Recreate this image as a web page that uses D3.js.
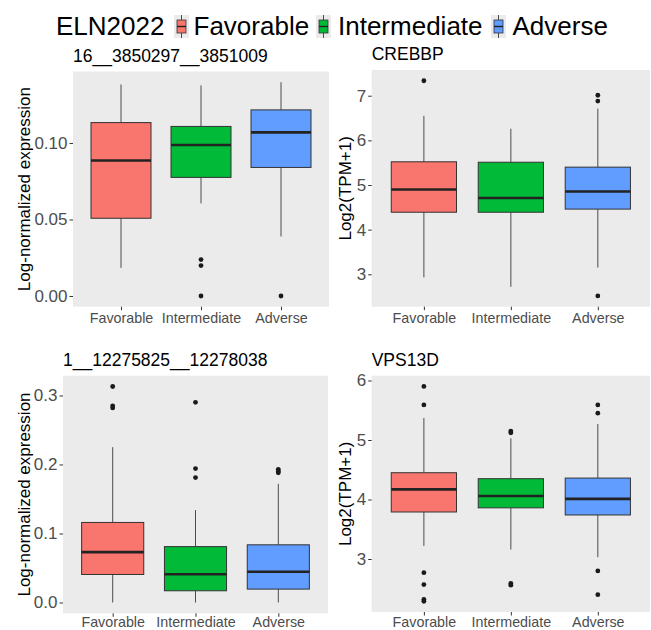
<!DOCTYPE html>
<html>
<head>
<meta charset="utf-8">
<script src="https://cdn.jsdelivr.net/npm/d3@7"></script>
<style>
  body { margin: 0; background: #fff; }
  svg { font-family: "Liberation Sans", Arial, sans-serif; }
</style>
</head>
<body>
<svg id="chart" width="651" height="630"></svg>
<script>
const categories = ['Favorable', 'Intermediate', 'Adverse'];
const colors = ['#F8766D', '#00BA38', '#619CFF'];
const legendTitle = 'ELN2022';

// box stats per group: [lower whisker, q1, median, q3, upper whisker]
const p1Title = '16__3850297__3851009';
const p1Stats = [
  [0.0184, 0.0508, 0.0885, 0.1133, 0.1382],
  [0.0605, 0.0775, 0.0987, 0.1108, 0.1376],
  [0.0389, 0.0840, 0.1069, 0.1216, 0.1397],
];
const p1Outliers = [[], [0.0238, 0.0199, 0.0], [0.0]];
const p1Ticks = [0, 0.05, 0.10];

const p2Title = 'CREBBP';
const p2Stats = [
  [2.93, 4.39, 4.90, 5.52, 6.55],
  [2.72, 4.39, 4.71, 5.51, 6.26],
  [3.15, 4.46, 4.855, 5.40, 6.71],
];
const p2Outliers = [[7.335], [], [7.01, 6.88, 2.515]];
const p2Ticks = [3, 4, 5, 6, 7];

const p3Title = '1__12275825__12278038';
const p3Stats = [
  [0, 0.0406, 0.073, 0.116, 0.225],
  [0, 0.017, 0.041, 0.081, 0.134],
  [0, 0.0194, 0.0445, 0.0836, 0.172],
];
const p3Outliers = [[0.313, 0.285, 0.282], [0.290, 0.194, 0.181], [0.193, 0.190, 0.188]];
const p3Ticks = [0, 0.1, 0.2, 0.3];

const p4Title = 'VPS13D';
const p4Stats = [
  [3.22, 3.79, 4.17, 4.45, 5.37],
  [3.16, 3.86, 4.06, 4.35, 5.03],
  [3.03, 3.74, 4.01, 4.36, 5.27],
];
const p4Outliers = [[5.90, 5.59, 2.77, 2.57, 2.32, 2.29], [5.15, 5.12, 2.59, 2.56], [5.59, 5.45, 2.80, 2.40]];
const p4Ticks = [3, 4, 5, 6];

const panels = [
  { title: p1Title, stats: p1Stats, outliers: p1Outliers, ticks: p1Ticks, fmt: '.2f', ylab: 'Log-normalized expression',
    x0: 73, x1: 329, y0: 71.5, y1: 306.7, ylabX: 24, xPad: 3 },
  { title: p2Title, stats: p2Stats, outliers: p2Outliers, ticks: p2Ticks, fmt: 'd', ylab: 'Log2(TPM+1)',
    x0: 371.7, x1: 650, y0: 70, y1: 306.7, ylabX: 345, xPad: 3 },
  { title: p3Title, stats: p3Stats, outliers: p3Outliers, ticks: p3Ticks, fmt: '.1f', ylab: 'Log-normalized expression',
    x0: 63, x1: 328, y0: 375.7, y1: 613.3, ylabX: 24, xPad: 0.5 },
  { title: p4Title, stats: p4Stats, outliers: p4Outliers, ticks: p4Ticks, fmt: 'd', ylab: 'Log2(TPM+1)',
    x0: 371.7, x1: 650, y0: 375.7, y1: 612, ylabX: 345, xPad: 1.5 },
];

const svg = d3.select('#chart');

panels.forEach((p) => {
  const all = p.stats.flat().concat(p.outliers.flat());
  const lo = d3.min(all);
  const hi = d3.max(all);
  const pad = (hi - lo) * 0.05; // ggplot default expansion

  const x = d3.scalePoint().domain(categories).range([p.x0, p.x1]).padding(0.6);
  const y = d3.scaleLinear().domain([lo - pad, hi + pad]).range([p.y1, p.y0]);
  const boxW = x.step() * 0.75;

  const g = svg.append('g');

  g.append('rect')
    .attr('x', p.x0).attr('y', p.y0)
    .attr('width', p.x1 - p.x0).attr('height', p.y1 - p.y0)
    .attr('fill', '#EBEBEB');

  // axes
  const yAxis = g.append('g')
    .attr('transform', `translate(${p.x0},0)`)
    .call(d3.axisLeft(y).tickValues(p.ticks).tickFormat(d3.format(p.fmt)).tickSize(3.5).tickPadding(2));
  yAxis.select('.domain').remove();
  yAxis.selectAll('line').attr('stroke', '#333');
  yAxis.selectAll('text').attr('fill', '#4D4D4D').style('font-size', '17px');

  const xAxis = g.append('g')
    .attr('transform', `translate(0,${p.y1})`)
    .call(d3.axisBottom(x).tickSize(3.5).tickPadding(p.xPad));
  xAxis.select('.domain').remove();
  xAxis.selectAll('line').attr('stroke', '#333');
  xAxis.selectAll('text').attr('fill', '#4D4D4D').style('font-size', '14.3px');

  // boxes
  const box = g.selectAll('.box')
    .data(p.stats)
    .join('g')
    .attr('class', 'box');

  box.append('line')
    .attr('x1', (d, i) => x(categories[i])).attr('x2', (d, i) => x(categories[i]))
    .attr('y1', (d) => y(d[4])).attr('y2', (d) => y(d[3]))
    .attr('stroke', '#4D4D4D').attr('stroke-width', 1);
  box.append('line')
    .attr('x1', (d, i) => x(categories[i])).attr('x2', (d, i) => x(categories[i]))
    .attr('y1', (d) => y(d[1])).attr('y2', (d) => y(d[0]))
    .attr('stroke', '#4D4D4D').attr('stroke-width', 1);
  box.append('rect')
    .attr('x', (d, i) => x(categories[i]) - boxW / 2)
    .attr('y', (d) => y(d[3]))
    .attr('width', boxW)
    .attr('height', (d) => y(d[1]) - y(d[3]))
    .attr('fill', (d, i) => colors[i])
    .attr('stroke', '#333').attr('stroke-width', 1);
  box.append('line')
    .attr('x1', (d, i) => x(categories[i]) - boxW / 2)
    .attr('x2', (d, i) => x(categories[i]) + boxW / 2)
    .attr('y1', (d) => y(d[2])).attr('y2', (d) => y(d[2]))
    .attr('stroke', '#222').attr('stroke-width', 2.6);

  p.outliers.forEach((vals, i) => {
    g.selectAll(null)
      .data(vals)
      .join('circle')
      .attr('cx', x(categories[i]))
      .attr('cy', (v) => y(v))
      .attr('r', 2.4)
      .attr('fill', '#1a1a1a');
  });

  g.append('text')
    .attr('x', p.x0).attr('y', p.y0 - 10)
    .style('font-size', '17.5px')
    .attr('fill', '#000')
    .text(p.title);

  g.append('text')
    .attr('transform', `translate(${p.ylabX},${(p.y0 + p.y1) / 2}) rotate(-90)`)
    .attr('text-anchor', 'middle')
    .attr('dy', '0.35em')
    .style('font-size', '17px')
    .attr('fill', '#000')
    .text(p.ylab);
});

// legend
const legend = svg.append('g');
legend.append('text')
  .attr('x', 56).attr('y', 35)
  .style('font-size', '26px')
  .text(legendTitle);

const keyX = [174, 316, 491];
const labelX = [193.5, 338, 512.5];
categories.forEach((c, i) => {
  const k = legend.append('g').attr('transform', `translate(${keyX[i]},15)`);
  k.append('rect').attr('width', 15).attr('height', 23).attr('fill', '#EBEBEB');
  k.append('line').attr('x1', 7.5).attr('x2', 7.5).attr('y1', 0).attr('y2', 23)
    .attr('stroke', '#4D4D4D');
  k.append('rect').attr('x', 3).attr('y', 5).attr('width', 9).attr('height', 13)
    .attr('fill', colors[i]).attr('stroke', '#333').attr('stroke-width', 0.8);
  k.append('line').attr('x1', 3).attr('x2', 12).attr('y1', 11.5).attr('y2', 11.5)
    .attr('stroke', '#222').attr('stroke-width', 1.4);
  legend.append('text')
    .attr('x', labelX[i]).attr('y', 35)
    .style('font-size', '26px')
    .text(c);
});
</script>
</body>
</html>
